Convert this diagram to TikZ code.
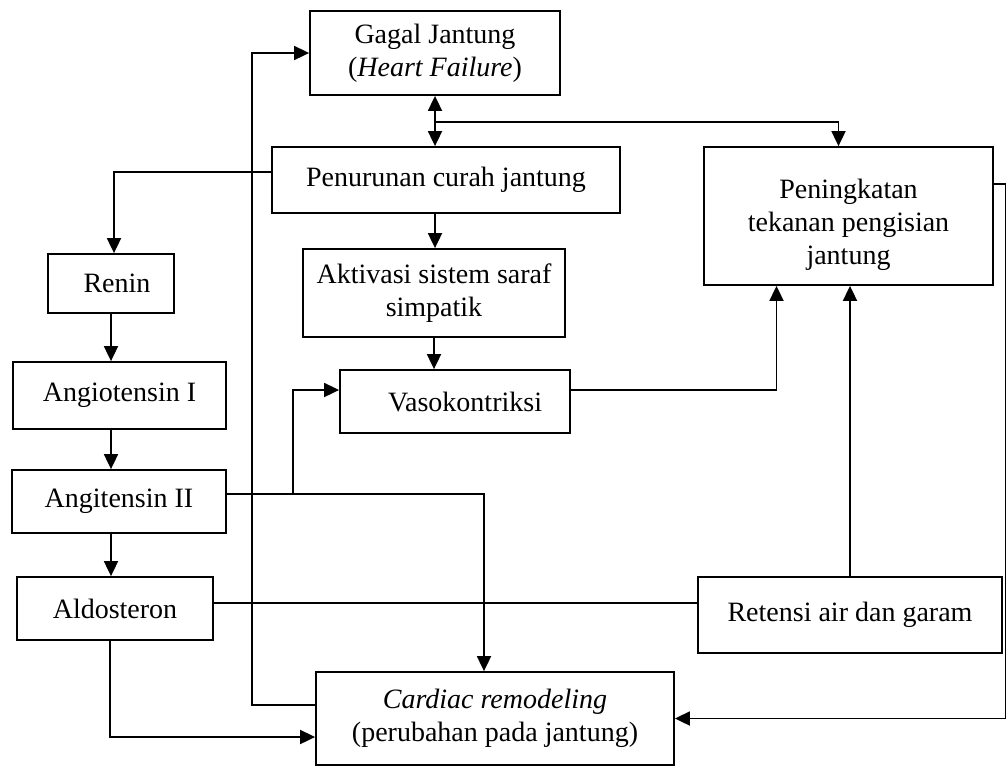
\documentclass[tikz,border=0pt]{standalone}
\usepackage{fontspec}
\setmainfont{Liberation Serif}
\usetikzlibrary{arrows.meta}
\usetikzlibrary{positioning}
\tikzset{kotak/.style={ % Box for each stage
           draw,
           line width=0.9pt,
           align=center,
           inner sep=2pt,
           font=\fontsize{14pt}{16.5pt}\selectfont},
         panah/.style={ % Connectors with filled heads
           draw,
           line width=0.9pt,
           -{Triangle[length=7.5pt,width=7pt]}}}

\begin{document}
\begin{tikzpicture}[x=0.5pt,y=-0.5pt]
\useasboundingbox (0,0) rectangle (1006,767);
\begin{scope}[every node/.style={kotak}]
    \node[minimum width=125pt,minimum height=42pt] (gagal) at (435,53) {Gagal Jantung\\(\textit{Heart Failure})};
    \node[minimum width=174pt,minimum height=33pt] (turun) at (446,180) {Penurunan curah jantung};
    \node[minimum width=131pt,minimum height=44pt] (aktivasi) at (434,293) {Aktivasi sistem saraf\\simpatik};
    \node[minimum width=115pt,minimum height=31.5pt] (vaso) at (455,401.5) {\hspace{10pt}Vasokontriksi};
    \node[minimum width=144.5pt,minimum height=69pt] (tekanan) at (848.5,216) {\rule{0pt}{19pt}Peningkatan\\tekanan pengisian\\jantung};
    \node[minimum width=63pt,minimum height=29.5pt] (renin) at (111,283.5) {\hspace{6pt}Renin};
    \node[minimum width=106.5pt,minimum height=33.5pt] (angI) at (119.5,395.5) {Angiotensin I};
    \node[minimum width=107pt,minimum height=31.5pt] (angII) at (119,501.5) {Angitensin II};
    \node[minimum width=98pt,minimum height=31.5pt] (aldo) at (115,608.5) {Aldosteron};
    \node[minimum width=152pt,minimum height=38pt] (retensi) at (850,615) {Retensi air dan garam};
    \node[minimum width=179pt,minimum height=46.5pt] (remodel) at (495,718.5) {\textit{Cardiac remodeling}\\(perubahan pada jantung)};
\end{scope}

\coordinate (cabang) at (435,122);

\begin{scope}[every path/.style={panah}]
    \path [<->, >={Triangle[length=7.5pt,width=7pt]}] (gagal.south) -- (gagal.south |- turun.north);
    \path (cabang) -| ([xshift=-5pt]tekanan.north);
    \path ([yshift=16pt]tekanan.east) -- ++(12,0) |- (remodel.east);
    \path ([yshift=6.75pt]remodel.west) -- ++(-63,0) |- (gagal.west);
    \path ([yshift=4pt]turun.west) -| ([xshift=1.5pt]renin.north);
    \path (renin.south) -- (renin.south |- angI.north);
    \path (angI.south -| renin.south) -- (angII.north -| renin.south);
    \path (angII.south -| renin.south) -- (aldo.north -| renin.south);
    \path (turun.south -| gagal.south) -- (aktivasi.north -| gagal.south);
    \path (aktivasi.south) -- (aktivasi.south |- vaso.north);
    \path ([yshift=3.75pt]angII.east) -- ++(66,0) |- ([yshift=5.75pt]vaso.west);
    \path ([yshift=3.75pt]angII.east) -| ([xshift=-5.5pt]remodel.north);
    \path ([yshift=5.75pt]vaso.east) -| ([xshift=-36pt]tekanan.south);
    \path (retensi.north) -- (retensi.north |- tekanan.south);
    \path [-] ([yshift=2.75pt]aldo.east) -- ([yshift=2.75pt]aldo.east -| retensi.west);
    \path ([xshift=-2.5pt]aldo.south) |- ([yshift=-9.25pt]remodel.west);
\end{scope}
\end{tikzpicture}
\end{document}
